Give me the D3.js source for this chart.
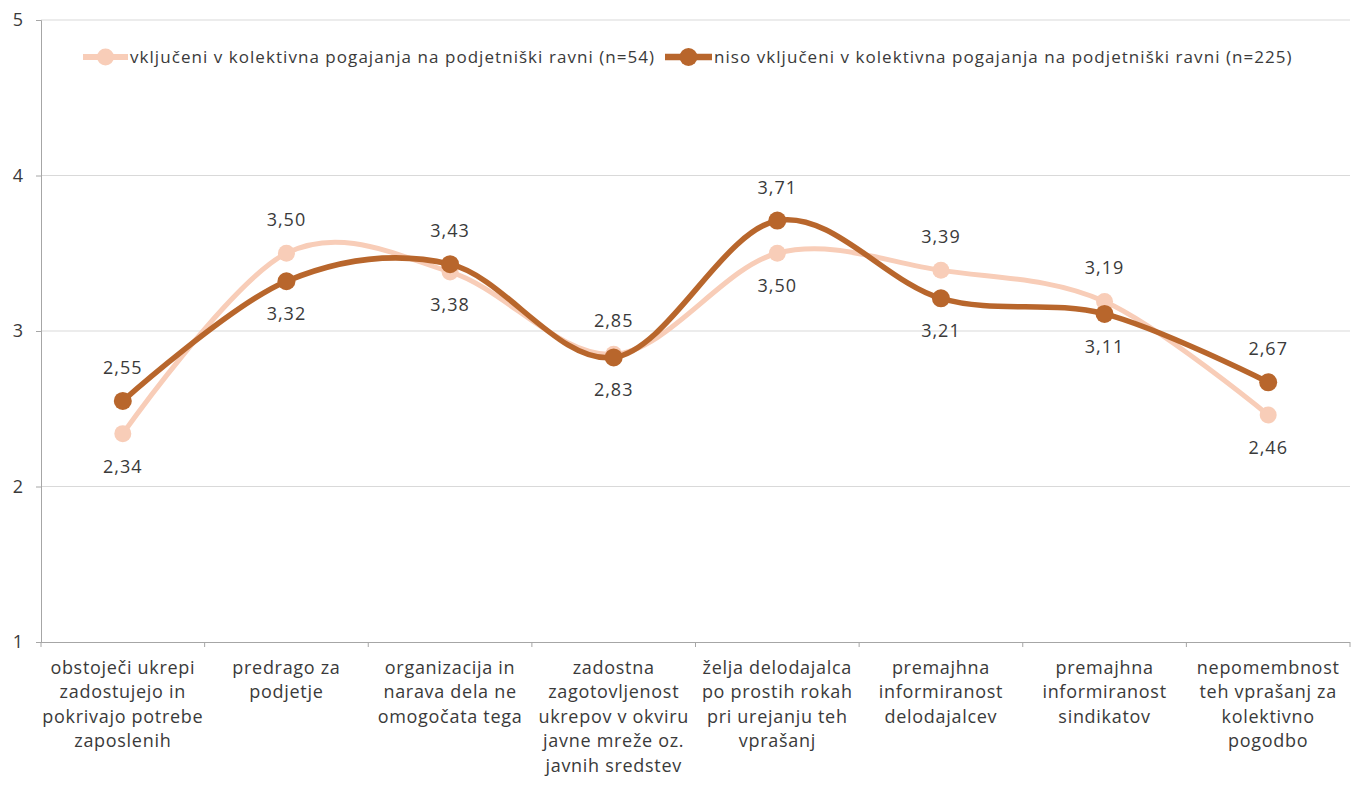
<!DOCTYPE html>
<html><head><meta charset="utf-8">
<script src="https://cdn.jsdelivr.net/npm/d3@7"></script>
<style>body{margin:0;background:#fff}svg text{font-family:"Open Sans",Lato,sans-serif;fill:#3a3a3a}</style>
</head><body><svg id="c" width="1351" height="785"></svg>
<script>
const categories = [
  "obstoječi ukrepi\nzadostujejo in\npokrivajo potrebe\nzaposlenih",
  "predrago za\npodjetje",
  "organizacija in\nnarava dela ne\nomogočata tega",
  "zadostna\nzagotovljenost\nukrepov v okviru\njavne mreže oz.\njavnih sredstev",
  "želja delodajalca\npo prostih rokah\npri urejanju teh\nvprašanj",
  "premajhna\ninformiranost\ndelodajalcev",
  "premajhna\ninformiranost\nsindikatov",
  "nepomembnost\nteh vprašanj za\nkolektivno\npogodbo"
];
const seriesNames = [
  "vključeni v kolektivna pogajanja na podjetniški ravni (n=54)",
  "niso vključeni v kolektivna pogajanja na podjetniški ravni (n=225)"
];
const vkljuceni = [2.34, 3.50, 3.38, 2.85, 3.50, 3.39, 3.19, 2.46];
const niso = [2.55, 3.32, 3.43, 2.83, 3.71, 3.21, 3.11, 2.67];
// label placement: 1 = above, -1 = below
const vkljuceniLabelPos = [-1, 1, -1, 1, -1, 1, 1, -1];
const nisoLabelPos = [1, -1, 1, -1, 1, -1, -1, 1];
const yTicks = [1, 2, 3, 4, 5];

const svg = d3.select("#c");
const mLeft = 41, mRight = 1350, mTop = 20, mBottom = 642;
const x = d3.scaleBand().domain(categories).range([mLeft, mRight]);
const y = d3.scaleLinear().domain([1, 5]).range([mBottom, mTop]);
const fmt = v => v.toFixed(2).replace(".", ",");

// gridlines
svg.append("g").selectAll("line").data(yTicks.filter(t => t > 1)).join("line")
  .attr("x1", mLeft).attr("x2", mRight).attr("y1", d => y(d)).attr("y2", d => y(d))
  .attr("stroke", "#d9d9d9").attr("stroke-width", 1);

// y axis
const ya = svg.append("g").attr("transform", `translate(${mLeft},0)`)
  .call(d3.axisLeft(y).tickValues(yTicks).tickSize(5).tickPadding(13).tickFormat(d3.format("d")));
ya.select(".domain").attr("stroke", "#a6a6a6");
ya.selectAll(".tick line").attr("stroke", "#a6a6a6");
ya.selectAll("text").attr("font-size", 18).style("fill", "#3a3a3a");

// x axis
const xa = svg.append("g").attr("transform", `translate(0,${mBottom})`)
  .call(d3.axisBottom(x).tickSize(0).tickFormat(""));
xa.select(".domain").attr("stroke", "#a6a6a6").attr("d", `M${mLeft},0.5H${mRight}`);
svg.append("g").selectAll("line").data(d3.range(categories.length + 1)).join("line")
  .attr("x1", i => mLeft + i * x.step()).attr("x2", i => mLeft + i * x.step())
  .attr("y1", mBottom).attr("y2", mBottom + 5).attr("stroke", "#a6a6a6");
xa.selectAll(".tick").each(function(d) {
  const t = d3.select(this).append("text").attr("text-anchor", "middle")
    .attr("font-size", 18).attr("letter-spacing", 0.7).style("fill", "#3a3a3a");
  d.split("\n").forEach((ln, i) => t.append("tspan").attr("x", 0).attr("y", 32 + i * 24.4).text(ln));
});

const cx = (d, i) => x(categories[i]) + x.bandwidth() / 2;
const line = d3.line().x((d, i) => cx(d, i)).y(d => y(d)).curve(d3.curveCatmullRom.alpha(0));

const series = [
  {vals: vkljuceni, pos: vkljuceniLabelPos, color: "#f8cdb8", w: 5, r: 8.5},
  {vals: niso, pos: nisoLabelPos, color: "#b8662c", w: 5.5, r: 9}
];
series.forEach(s => {
  svg.append("path").attr("d", line(s.vals)).attr("fill", "none")
    .attr("stroke", s.color).attr("stroke-width", s.w).attr("stroke-linecap", "round");
  svg.append("g").selectAll("circle").data(s.vals).join("circle")
    .attr("cx", cx).attr("cy", d => y(d)).attr("r", s.r).attr("fill", s.color);
});
series.forEach(s => {
  svg.append("g").selectAll("text").data(s.vals).join("text")
    .attr("x", cx).attr("y", (d, i) => y(d) - s.pos[i] * 33 + 6)
    .attr("text-anchor", "middle").attr("font-size", 18).attr("letter-spacing", 1).text(fmt);
});

// legend
const lg = svg.append("g");
const items = [{x0: 83, x1: 128, tx: 130, c: series[0].color, w: 5, r: 8.5}, {x0: 665, x1: 712, tx: 714, c: series[1].color, w: 5.5, r: 9}];
items.forEach((it, i) => {
  lg.append("line").attr("x1", it.x0).attr("x2", it.x1).attr("y1", 57).attr("y2", 57)
    .attr("stroke", it.c).attr("stroke-width", it.w + 1);
  lg.append("circle").attr("cx", (it.x0 + it.x1) / 2).attr("cy", 57).attr("r", it.r).attr("fill", it.c);
  lg.append("text").attr("x", it.tx).attr("y", 63).attr("font-size", 17).attr("letter-spacing", 1.05).text(seriesNames[i]);
});
</script></body></html>
